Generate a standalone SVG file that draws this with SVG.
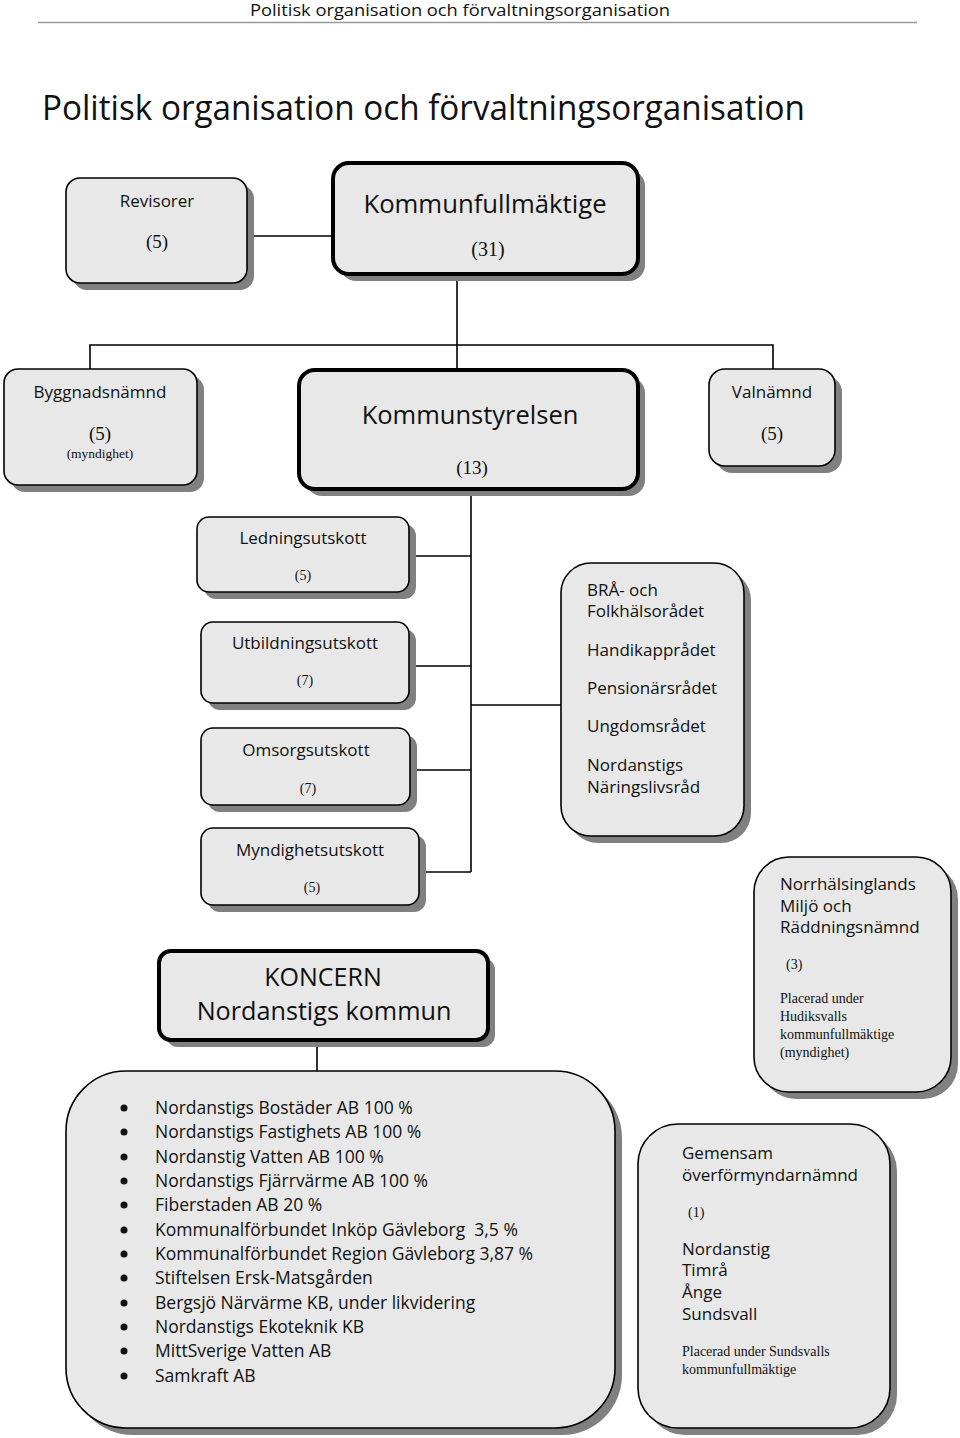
<svg xmlns="http://www.w3.org/2000/svg" width="960" height="1438" viewBox="0 0 960 1438">
<style>
.box{fill:#e8e8e8;stroke:#000;stroke-width:1.6}
.thick{stroke-width:4}
.sh{fill:#808080}
.s{font-family:"Open Sans","DejaVu Sans",sans-serif;fill:#111}
.r{font-family:"Liberation Serif","DejaVu Serif",serif;fill:#111}
.c{text-anchor:middle}
.ln{stroke:#000;stroke-width:1.6;fill:none}
</style>
<rect width="960" height="1438" fill="#fff"/>
<g id="header">
<text class="s" x="250" y="16" font-size="17" textLength="420" lengthAdjust="spacingAndGlyphs">Politisk organisation och förvaltningsorganisation</text>
<line x1="38" y1="22.5" x2="917" y2="22.5" stroke="#999" stroke-width="1.5"/>
<text class="s" x="42" y="120" font-size="34" textLength="763" lengthAdjust="spacingAndGlyphs">Politisk organisation och förvaltningsorganisation</text>
</g>
<g id="connectors">
<line class="ln" x1="247" y1="236" x2="333" y2="236"/>
<line class="ln" x1="457" y1="274" x2="457" y2="370" stroke-width="3.2"/>
<polyline class="ln" points="90,369 90,345 773,345 773,369"/>
<line class="ln" x1="471" y1="489" x2="471" y2="872"/>
<line class="ln" x1="409" y1="556" x2="471" y2="556"/>
<line class="ln" x1="409" y1="666" x2="471" y2="666"/>
<line class="ln" x1="410" y1="770" x2="471" y2="770"/>
<line class="ln" x1="471" y1="705" x2="561" y2="705"/>
<line class="ln" x1="419" y1="872" x2="471" y2="872"/>
<line class="ln" x1="317" y1="1040" x2="317" y2="1071"/>
</g>
<g id="revisorer">
<rect class="sh" x="73" y="185" width="181" height="105" rx="14"/>
<rect class="box" x="66" y="178" width="181" height="105" rx="14"/>
<text class="s c" x="157" y="207" font-size="17">Revisorer</text>
<text class="r c" x="157" y="248" font-size="19">(5)</text>
</g>
<g id="kommunfullmaktige">
<rect class="sh" x="340" y="170" width="305" height="111" rx="16"/>
<rect class="box thick" x="333" y="163" width="305" height="111" rx="16"/>
<text class="s c" x="485" y="213" font-size="25.7">Kommunfullmäktige</text>
<text class="r c" x="488" y="256" font-size="20">(31)</text>
</g>
<g id="byggnadsnamnd">
<rect class="sh" x="11" y="376" width="193" height="116" rx="14"/>
<rect class="box" x="4" y="369" width="193" height="116" rx="14"/>
<text class="s c" x="100" y="398" font-size="17">Byggnadsnämnd</text>
<text class="r c" x="100" y="440" font-size="19">(5)</text>
<text class="r c" x="100" y="458" font-size="13.5">(myndighet)</text>
</g>
<g id="kommunstyrelsen">
<rect class="sh" x="306" y="377" width="339" height="119" rx="16"/>
<rect class="box thick" x="299" y="370" width="339" height="119" rx="16"/>
<text class="s c" x="470" y="424" font-size="25.5">Kommunstyrelsen</text>
<text class="r c" x="472" y="474" font-size="19">(13)</text>
</g>
<g id="valnamnd">
<rect class="sh" x="716" y="376" width="126" height="97" rx="16"/>
<rect class="box" x="709" y="369" width="126" height="97" rx="16"/>
<text class="s c" x="772" y="398" font-size="17">Valnämnd</text>
<text class="r c" x="772" y="440" font-size="19">(5)</text>
</g>
<g id="ledningsutskott">
<rect class="sh" x="204" y="524" width="212" height="75" rx="12"/>
<rect class="box" x="197" y="517" width="212" height="75" rx="12"/>
<text class="s c" x="303" y="544" font-size="17">Ledningsutskott</text>
<text class="r c" x="303" y="580" font-size="14">(5)</text>
</g>
<g id="utbildningsutskott">
<rect class="sh" x="208" y="629" width="208" height="81" rx="12"/>
<rect class="box" x="201" y="622" width="208" height="81" rx="12"/>
<text class="s c" x="305" y="649" font-size="17">Utbildningsutskott</text>
<text class="r c" x="305" y="685" font-size="14">(7)</text>
</g>
<g id="omsorgsutskott">
<rect class="sh" x="208" y="735" width="209" height="77" rx="12"/>
<rect class="box" x="201" y="728" width="209" height="77" rx="12"/>
<text class="s c" x="306" y="756" font-size="17">Omsorgsutskott</text>
<text class="r c" x="308" y="793" font-size="14">(7)</text>
</g>
<g id="myndighetsutskott">
<rect class="sh" x="208" y="835" width="218" height="77" rx="12"/>
<rect class="box" x="201" y="828" width="218" height="77" rx="12"/>
<text class="s c" x="310" y="856" font-size="17">Myndighetsutskott</text>
<text class="r c" x="312" y="892" font-size="14">(5)</text>
</g>
<g id="raden">
<rect class="sh" x="568" y="570" width="183" height="273" rx="30"/>
<rect class="box" x="561" y="563" width="183" height="273" rx="30"/>
<g class="s" font-size="17">
<text x="587" y="596">BRÅ- och</text>
<text x="587" y="617">Folkhälsorådet</text>
<text x="587" y="656">Handikapprådet</text>
<text x="587" y="694">Pensionärsrådet</text>
<text x="587" y="732">Ungdomsrådet</text>
<text x="587" y="771">Nordanstigs</text>
<text x="587" y="793">Näringslivsråd</text>
</g>
</g>
<g id="norrhalsinglands">
<rect class="sh" x="761" y="864" width="197" height="235" rx="35"/>
<rect class="box" x="754" y="857" width="197" height="235" rx="35"/>
<g class="s" font-size="17">
<text x="780" y="890">Norrhälsinglands</text>
<text x="780" y="912">Miljö och</text>
<text x="780" y="933">Räddningsnämnd</text>
</g>
<g class="r" font-size="14">
<text x="786" y="969">(3)</text>
<text x="780" y="1003">Placerad under</text>
<text x="780" y="1021">Hudiksvalls</text>
<text x="780" y="1039">kommunfullmäktige</text>
<text x="780" y="1057">(myndighet)</text>
</g>
</g>
<g id="koncern">
<rect class="sh" x="166" y="958" width="329" height="89" rx="12"/>
<rect class="box thick" x="159" y="951" width="329" height="89" rx="12"/>
<text class="s c" x="323" y="986" font-size="25">KONCERN</text>
<text class="s c" x="324" y="1020" font-size="25.2">Nordanstigs kommun</text>
</g>
<g id="bolag">
<rect class="sh" x="73" y="1078" width="549" height="357" rx="60"/>
<rect class="box" x="66" y="1071" width="549" height="357" rx="60"/>
<g fill="#111">
<circle cx="124" cy="1108" r="3.5"/><circle cx="124" cy="1132" r="3.5"/><circle cx="124" cy="1157" r="3.5"/><circle cx="124" cy="1181" r="3.5"/><circle cx="124" cy="1205" r="3.5"/><circle cx="124" cy="1230" r="3.5"/><circle cx="124" cy="1254" r="3.5"/><circle cx="124" cy="1278" r="3.5"/><circle cx="124" cy="1303" r="3.5"/><circle cx="124" cy="1327" r="3.5"/><circle cx="124" cy="1351" r="3.5"/><circle cx="124" cy="1376" r="3.5"/>
</g>
<g class="s" font-size="17.5">
<text x="155" y="1114">Nordanstigs Bostäder AB 100 %</text>
<text x="155" y="1138">Nordanstigs Fastighets AB 100 %</text>
<text x="155" y="1163">Nordanstig Vatten AB 100 %</text>
<text x="155" y="1187">Nordanstigs Fjärrvärme AB 100 %</text>
<text x="155" y="1211">Fiberstaden AB 20 %</text>
<text x="155" y="1236" xml:space="preserve">Kommunalförbundet Inköp Gävleborg  3,5 %</text>
<text x="155" y="1260">Kommunalförbundet Region Gävleborg 3,87 %</text>
<text x="155" y="1284">Stiftelsen Ersk-Matsgården</text>
<text x="155" y="1309">Bergsjö Närvärme KB, under likvidering</text>
<text x="155" y="1333">Nordanstigs Ekoteknik KB</text>
<text x="155" y="1357">MittSverige Vatten AB</text>
<text x="155" y="1382">Samkraft AB</text>
</g>
</g>
<g id="overformyndarnamnd">
<rect class="sh" x="645" y="1131" width="252" height="304" rx="40"/>
<rect class="box" x="638" y="1124" width="252" height="304" rx="40"/>
<g class="s" font-size="17">
<text x="682" y="1159">Gemensam</text>
<text x="682" y="1181">överförmyndarnämnd</text>
<text x="682" y="1255">Nordanstig</text>
<text x="682" y="1276">Timrå</text>
<text x="682" y="1298">Ånge</text>
<text x="682" y="1320">Sundsvall</text>
</g>
<g class="r" font-size="14">
<text x="688" y="1217">(1)</text>
<text x="682" y="1356">Placerad under Sundsvalls</text>
<text x="682" y="1374">kommunfullmäktige</text>
</g>
</g>
</svg>
